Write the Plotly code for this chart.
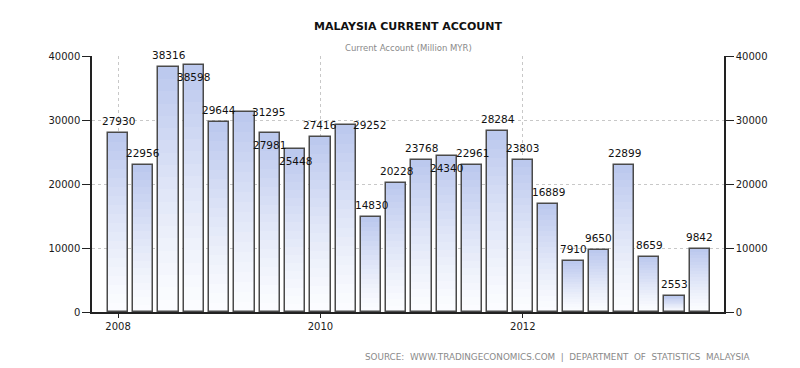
import plotly.graph_objects as go

quarters = [2008 + 0.25 * i for i in range(24)]
values = [27930, 22956, 38316, 38598, 29644, 31295, 27981, 25448,
          27416, 29252, 14830, 20228, 23768, 24340, 22961, 28284,
          23803, 16889, 7910, 9650, 22899, 8659, 2553, 9842]
labels = [str(v) for v in values]
year_ticks = [2008, 2010, 2012]
y_ticks = [0, 10000, 20000, 30000, 40000]

# label placement style (to avoid overlapping labels, as in the reference)
label_pos = ["up", "up", "up", "down", "up", "right", "down", "down",
             "up", "right", "up", "up", "up", "down", "up", "up",
             "up", "up", "up", "up", "up", "up", "up", "up"]

TOP = (186, 199, 237)
BOT = (252, 253, 255)
N = 20
BAR_W = 0.2

fig = go.Figure()
for k in range(N):
    t = ((k + 0.5) / N) ** 1.2
    c = tuple(round(BOT[j] + (TOP[j] - BOT[j]) * t) for j in range(3))
    fig.add_trace(go.Bar(
        x=quarters, y=[v / N for v in values], base=[v * k / N for v in values],
        width=BAR_W, marker=dict(color="rgb(%d,%d,%d)" % c, line=dict(width=0)),
        showlegend=False, hoverinfo="skip"))

fig.add_trace(go.Bar(
    x=quarters, y=values, width=BAR_W,
    marker=dict(color="rgba(0,0,0,0)", line=dict(color="#4a4a4a", width=1.5)),
    showlegend=False))

fig.add_trace(go.Scatter(x=[quarters[0]], y=[0], yaxis="y2", mode="markers",
                         marker=dict(opacity=0), showlegend=False, hoverinfo="skip"))

shifts = {"up": (0, 12), "down": (0, -12), "right": (24, 0)}
label_annots = []
for xq, v, txt, pos in zip(quarters, values, labels, label_pos):
    xs, ys = shifts[pos]
    label_annots.append(dict(
        x=xq, y=v, xref="x", yref="y", text=txt, showarrow=False,
        xanchor="center", yanchor="middle", xshift=xs, yshift=ys,
        font=dict(family="DejaVu Sans", size=10.5, color="#111")))

axis_font = dict(family="DejaVu Sans", size=10, color="#1a1a1a")
ytick_text = [str(v) for v in y_ticks]
fig.update_layout(
    width=800, height=368,
    margin=dict(l=84, r=84, t=48, b=64),
    paper_bgcolor="white", plot_bgcolor="white",
    barmode="overlay", bargap=0,
    xaxis=dict(range=[2007.743, 2013.988], tickvals=year_ticks,
               ticktext=[str(y) for y in year_ticks],
               showgrid=True, gridcolor="#c8c8c8", griddash="dot", gridwidth=1,
               showline=True, linecolor="#222", linewidth=1.5,
               ticks="outside", ticklen=4, tickcolor="#222",
               tickfont=axis_font, zeroline=False),
    yaxis=dict(range=[0, 40000], tickvals=y_ticks, ticktext=ytick_text,
               showgrid=True, gridcolor="#c8c8c8", griddash="dot", gridwidth=1,
               showline=True, linecolor="#222", linewidth=1.5,
               ticks="outside", ticklen=8, tickcolor="#222",
               tickfont=axis_font, zeroline=False),
    yaxis2=dict(range=[0, 40000], tickvals=y_ticks, ticktext=ytick_text,
                overlaying="y", side="right", showgrid=False,
                showline=True, linecolor="#222", linewidth=1.5,
                ticks="outside", ticklen=8, tickcolor="#222",
                tickfont=axis_font, zeroline=False),
    annotations=label_annots + [
        dict(text="<b>MALAYSIA CURRENT ACCOUNT</b>", xref="paper", yref="paper",
             x=0.5, y=1.117, xanchor="center", yanchor="middle", showarrow=False,
             font=dict(family="DejaVu Sans", size=11, color="#111")),
        dict(text="Current Account (Million MYR)", xref="paper", yref="paper",
             x=0.5, y=1.031, xanchor="center", yanchor="middle", showarrow=False,
             font=dict(family="DejaVu Sans", size=8.5, color="#8a8a8a")),
        dict(text="SOURCE:  WWW.TRADINGECONOMICS.COM  |  DEPARTMENT  OF  STATISTICS  MALAYSIA",
             xref="paper", yref="paper", x=1.045, y=-0.176, xanchor="right",
             yanchor="middle", showarrow=False,
             font=dict(family="DejaVu Sans", size=8.8, color="#8a8a8a")),
    ],
)

fig.write_html("out.html")
